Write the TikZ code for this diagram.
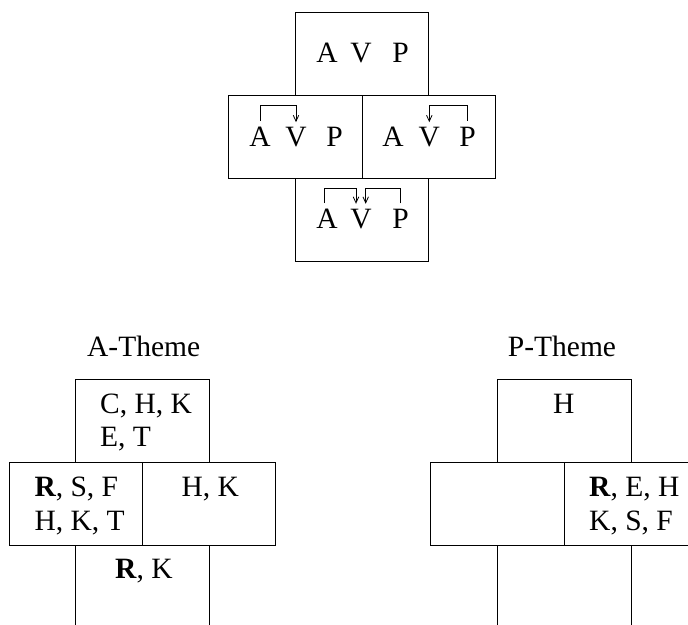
\documentclass[tikz,border=0pt]{standalone}
\usepackage{fontspec}
\setmainfont{Liberation Serif}
\usetikzlibrary{arrows.meta}
\begin{document}
\begin{tikzpicture}[x=1pt,y=-1pt,
  box/.style={draw, line width=0.9pt, minimum width=133.5pt, minimum height=83pt, inner sep=0pt},
  lab/.style={inner sep=0pt, anchor=base west, font=\fontsize{29.5}{33.4}\selectfont},
  ttl/.style={inner sep=0pt, anchor=base, font=\fontsize{29.5}{33.4}\selectfont},
  let/.style={inner sep=0pt, anchor=base, font=\fontsize{29.5}{33.4}\selectfont},
  arr/.style={line width=0.8pt, -{Straight Barb[length=6pt,width=5.5pt]}}]
\useasboundingbox (0,0) rectangle (688,624);
\clip (0,0) rectangle (688,624);
% ---------- top diagram ----------
\node[box] (tb) at (362,53.8) {};
\node[box] (ml) at (295.3,136.7) {};
\node[box] (mr) at (428.8,136.7) {};
\node[box] (bt) at (362,219.7) {};
\node[let] (tA) at (327,62.7) {A};
\node[let] (tV) at (361,62.7) {V};
\node[let] (tP) at (400.5,62.7) {P};
\node[let] (mlA) at (260,146.7) {A};
\node[let] (mlV) at (296,146.7) {V};
\node[let] (mlP) at (334.5,146.7) {P};
\node[let] (mrA) at (393,146.7) {A};
\node[let] (mrV) at (429.3,146.7) {V};
\node[let] (mrP) at (467.5,146.7) {P};
\node[let] (bA) at (327,228.3) {A};
\node[let] (bV) at (361,228.3) {V};
\node[let] (bP) at (400.5,228.3) {P};
\draw[arr] ([yshift=6pt]mlA.north) -- ++(0,-15.4) -| ([yshift=5pt]mlV.north);
\draw[arr] ([yshift=6.5pt]mrP.north) -- ++(0,-15) -| ([yshift=5pt]mrV.north);
\draw[arr] ([xshift=-3pt,yshift=5.4pt]bA.north) -- ++(0,-14.7) -| ([xshift=-5pt,yshift=5pt]bV.north);
\draw[arr] ([xshift=-0.5pt,yshift=5.4pt]bP.north) -- ++(0,-14.7) -| ([xshift=4.7pt,yshift=5pt]bV.north);
% ---------- A-Theme ----------
\node[ttl] (at) at (143.7,356) {A-Theme};
\node[box] (atb) at (142.5,421) {};
\node[box] (aml) at (75.8,503.7) {};
\node[box] (amr) at (208.8,503.7) {};
\node[box] (abt) at (142.5,586.5) {};
\node[lab] (a1) at (100,413.3) {C, H, K};
\node[lab] (a2) at (100,446.7) {E, T};
\node[lab] (a3) at (34.3,496.7) {\textbf{R}, S, F};
\node[lab] (a4) at (34.3,530) {H, K, T};
\node[lab] (a5) at (181.3,496.7) {H, K};
\node[lab] (a6) at (115,578.3) {\textbf{R}, K};
% ---------- P-Theme ----------
\node[ttl] (pt) at (562,356) {P-Theme};
\node[box] (ptb) at (564.2,421) {};
\node[box] (pml) at (497.5,503.7) {};
\node[box] (pmr) at (630.8,503.7) {};
\node[box] (pbt) at (564.2,586.5) {};
\node[lab] (p1) at (552.8,413) {H};
\node[lab] (p2) at (589,496.7) {\textbf{R}, E, H};
\node[lab] (p3) at (589,530) {K, S, F};
\end{tikzpicture}
\end{document}
